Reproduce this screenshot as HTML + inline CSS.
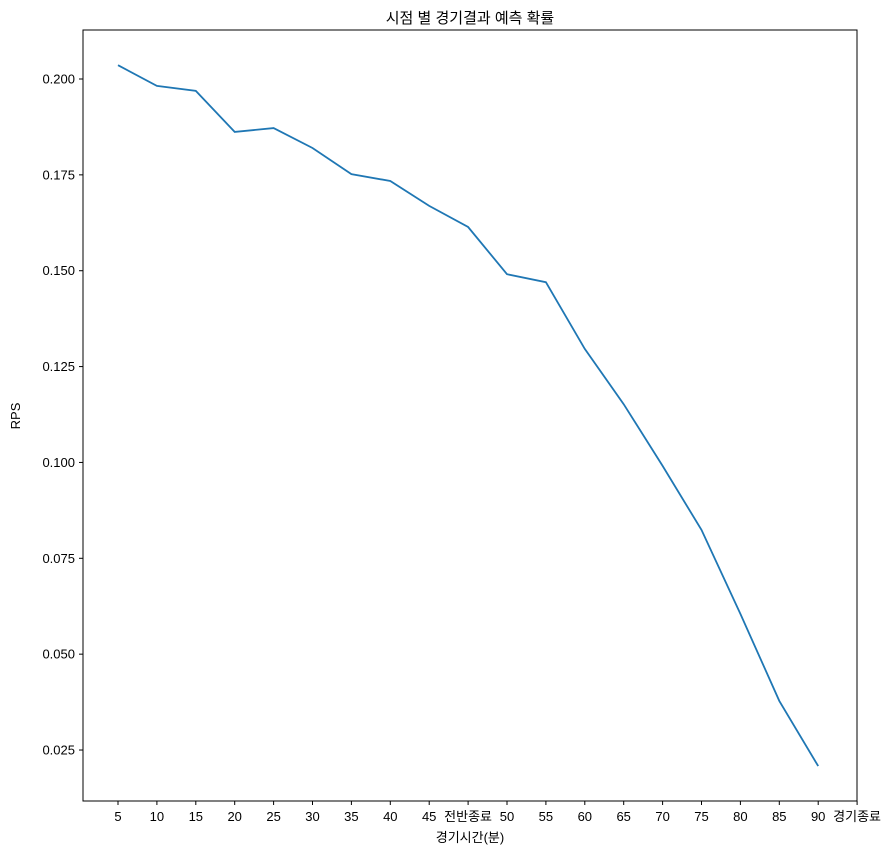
<!DOCTYPE html>
<html><head><meta charset="utf-8"><style>
body{margin:0;background:#fff;}
svg text{font-family:"Liberation Sans","Noto Sans CJK KR",sans-serif;fill:#000;}
</style></head><body>
<svg id="chart" width="894" height="854" xmlns="http://www.w3.org/2000/svg">
<rect x="0" y="0" width="894" height="854" fill="#fff"/>
<text x="470" y="23" font-size="15" text-anchor="middle">시점 별 경기결과 예측 확률</text>
<text x="470" y="842" font-size="13" text-anchor="middle">경기시간(분)</text>
<text transform="translate(20,416) rotate(-90)" font-size="13" text-anchor="middle">RPS</text>
<g id="ticks"></g>
<path id="line" fill="none" stroke="#1f77b4" stroke-width="1.8"/>
<rect x="83" y="30" width="774" height="771" fill="none" stroke="#000" stroke-width="1"/>
</svg>
<script>
const categories = ["5","10","15","20","25","30","35","40","45","전반종료","50","55","60","65","70","75","80","85","90","경기종료"];
const rpsValues = [0.2036,0.1982,0.1969,0.1862,0.1872,0.1820,0.1752,0.1734,0.1669,0.1614,0.1491,0.1470,0.1296,0.1152,0.0991,0.0824,0.0605,0.0378,0.0208];
const yTicks = [0.025,0.050,0.075,0.100,0.125,0.150,0.175,0.200];
const yTickLabels = ["0.025","0.050","0.075","0.100","0.125","0.150","0.175","0.200"];

const x = i => 118 + i * 38.9;
const y = v => 79 + (0.200 - v) / 0.025 * 95.86;
const NS = "http://www.w3.org/2000/svg";
const g = document.getElementById("ticks");
function mk(tag, attrs){const e=document.createElementNS(NS,tag);for(const k in attrs)e.setAttribute(k,attrs[k]);g.appendChild(e);return e;}
categories.forEach((c,i)=>{
  const t = mk("line",{x1:x(i),x2:x(i),y1:801,y2:805,stroke:"#000"});
  
  
  const l = mk("text",{x:x(i),y:821,"font-size":13,"text-anchor":"middle"});
  l.textContent = c;
  
  
});
yTicks.forEach((v,i)=>{
  const t = mk("line",{x1:79,x2:83,y1:y(v),y2:y(v),stroke:"#000"});
  
  
  const l = mk("text",{x:75,y:y(v)+4.5,"font-size":13,"text-anchor":"end"});
  l.textContent = yTickLabels[i];
  
  
});
document.getElementById("line").setAttribute("d", rpsValues.map((v,i)=>(i?"L":"M")+x(i).toFixed(1)+","+y(v).toFixed(1)).join(" "));
</script>
</body></html>
